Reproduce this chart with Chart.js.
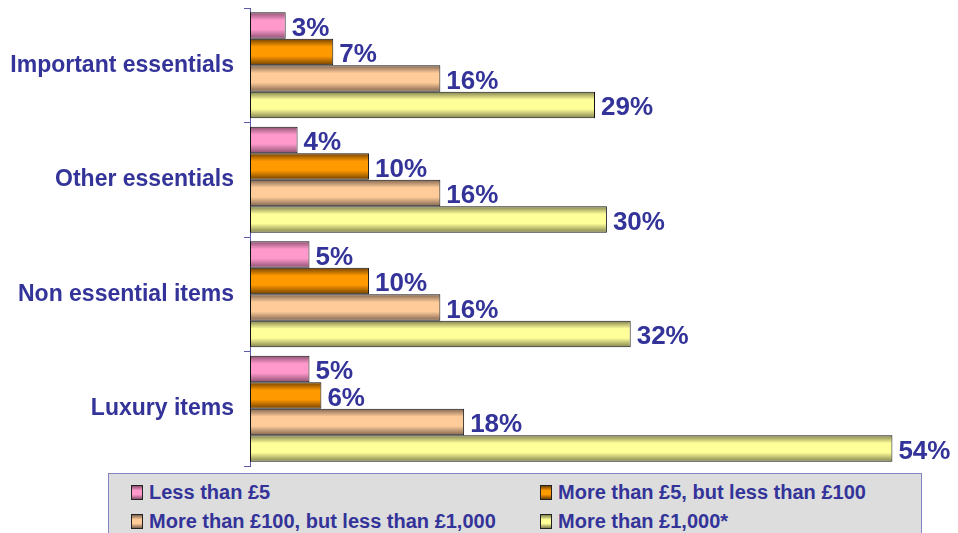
<!DOCTYPE html>
<html>
<head>
<meta charset="utf-8">
<script src="https://cdn.jsdelivr.net/npm/chart.js@4/dist/chart.umd.min.js"></script>
<style>
  html, body { margin: 0; padding: 0; background: #fff; }
  #wrap { position: relative; width: 958px; height: 533px; overflow: hidden; }
  #grafico { display: block; }
  #legend {
    position: absolute; left: 108px; top: 473px; width: 812px; height: 80px;
    background: #dddddd; border: 1.5px solid #8484c4;
    font: bold 20px "Liberation Sans", Arial, sans-serif; color: #333399;
  }
  .item { position: absolute; white-space: nowrap; line-height: 20px; }
  .sw { display: inline-block; width: 10px; height: 13px; border: 1px solid #222;
        vertical-align: -1px; margin-right: 6px; }
</style>
</head>
<body>
<div id="wrap">
  <canvas id="grafico" width="958" height="533"></canvas>
  <div id="legend"></div>
</div>
<script>
// Datos
const categorias = ["Important essentials", "Other essentials", "Non essential items", "Luxury items"];
const series = ["Less than £5", "More than £5, but less than £100",
                "More than £100, but less than £1,000", "More than £1,000*"];
const menos5 = [3, 4, 5, 5];
const de5a100 = [7, 10, 10, 6];
const de100a1000 = [16, 16, 16, 18];
const mas1000 = [29, 30, 32, 54];

const claros = ["#ff99cc", "#ff9900", "#ffcc99", "#ffff99"];
const oscuros = ["#8c5070", "#704000", "#806450", "#80804e"];
const AZUL = "#333399";
const catPct = 0.926;

// degradado vertical por barra (oscuro arriba/abajo, claro en el centro)
function degradado(c) {
  const i = c.datasetIndex;
  const chart = c.chart;
  const y = chart.scales.y;
  if (c.type !== 'data' || !y || !isFinite(y.top)) return claros[i];
  const banda = (y.bottom - y.top) / categorias.length;
  const grosor = banda * catPct / series.length;
  const top = y.getPixelForValue(c.dataIndex) - banda * catPct / 2 + i * grosor;
  const g = chart.ctx.createLinearGradient(0, top, 0, top + grosor);
  g.addColorStop(0, oscuros[i]);
  g.addColorStop(0.3, claros[i]);
  g.addColorStop(0.65, claros[i]);
  g.addColorStop(1, oscuros[i]);
  return g;
}

const etiquetas = {
  id: 'etiquetas',
  afterDatasetsDraw(chart) {
    const ctx = chart.ctx;
    ctx.save();
    ctx.font = 'bold 26px "Liberation Sans", Arial, sans-serif';
    ctx.fillStyle = AZUL;
    ctx.textAlign = 'left';
    ctx.textBaseline = 'middle';
    chart.data.datasets.forEach((ds, i) => {
      chart.getDatasetMeta(i).data.forEach((bar, j) => {
        ctx.fillText(ds.data[j] + '%', bar.x + 6, bar.y + 3);
      });
    });
    ctx.restore();
  }
};

const valores = [menos5, de5a100, de100a1000, mas1000];

new Chart(document.getElementById('grafico').getContext('2d'), {
  type: 'bar',
  data: {
    labels: categorias,
    datasets: series.map((s, i) => ({
      label: s,
      data: valores[i],
      backgroundColor: degradado,
      borderColor: '#111',
      borderWidth: 1,
      borderSkipped: false,
      categoryPercentage: catPct,
      barPercentage: 1
    }))
  },
  options: {
    indexAxis: 'y',
    responsive: false,
    animation: false,
    layout: { padding: { left: 0, top: 8, right: 18, bottom: 67 } },
    plugins: { legend: { display: false }, tooltip: { enabled: false } },
    scales: {
      x: { display: false, min: 0, max: 58 },
      y: {
        afterFit: s => { s.width = 250; s.paddingTop = 0; s.paddingBottom = 0; },
        border: { display: true, color: '#5a5aaa', width: 1 },
        grid: { drawOnChartArea: false, drawTicks: true, tickLength: 6, color: '#5a5aaa', offset: true },
        ticks: {
          padding: 10,
          color: AZUL,
          font: { family: '"Liberation Sans", Arial, sans-serif', size: 23, weight: 'bold' }
        }
      }
    }
  },
  plugins: [etiquetas]
});

// leyenda en caja gris, dos columnas
const leyenda = document.getElementById('legend');
const pos = [[22, 8], [431, 8], [22, 37], [431, 37]];
series.forEach((s, i) => {
  const d = document.createElement('div');
  d.className = 'item';
  d.style.left = pos[i][0] + 'px';
  d.style.top = pos[i][1] + 'px';
  d.innerHTML = `<span class="sw" style="background:linear-gradient(${oscuros[i]},${claros[i]} 35%,${claros[i]} 65%,${oscuros[i]})"></span>${s}`;
  leyenda.appendChild(d);
});
</script>
</body>
</html>
